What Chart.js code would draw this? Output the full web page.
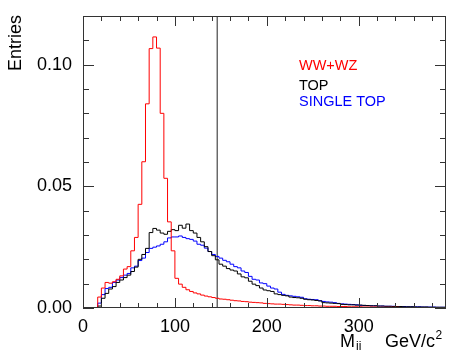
<!DOCTYPE html>
<html>
<head>
<meta charset="utf-8">
<script src="https://cdn.jsdelivr.net/npm/chart.js@4/dist/chart.umd.min.js"></script>
<style>
  html, body { margin: 0; padding: 0; background: #fff; }
</style>
</head>
<body>
<canvas id="chart" width="449" height="350"></canvas>
<script>
// histogram bins: 4 GeV wide, starting at 0
const binWidth = 4;

const wwwz = [
    0, 0, 0, 0, 0.0045, 0.0082, 0.0105, 0.0102, 0.0108, 0.0118,
    0.0132, 0.0160, 0.0170, 0.0235, 0.0290, 0.0426, 0.0601, 0.0839, 0.1066, 0.1114,
    0.1068, 0.0800, 0.0533, 0.0354, 0.0235, 0.0122, 0.0098, 0.0085, 0.0075, 0.0068,
    0.0062, 0.0058, 0.0053, 0.0049, 0.0046, 0.0043, 0.0040, 0.0037, 0.0036, 0.0034,
    0.0032, 0.0030, 0.0029, 0.0027, 0.0026, 0.0024, 0.0023, 0.0022, 0.0021, 0.0019,
    0.0018, 0.0017, 0.0016, 0.0016, 0.0015, 0.0014, 0.0013, 0.0012, 0.0012, 0.0011,
    0.0010, 0.0010, 0.0009, 0.0009, 0.0008, 0.0008, 0.0007, 0.0007, 0.0007, 0.0006,
    0.0006, 0.0006, 0.0005, 0.0005, 0.0005, 0.0005, 0.0004, 0.0004, 0.0004, 0.0004,
    0.0003, 0.0003, 0.0003, 0.0003, 0.0003, 0.0003, 0.0002, 0.0002, 0.0002, 0.0002,
    0.0002, 0.0002, 0.0002, 0.0001, 0.0001, 0.0001, 0.0001, 0.0001, 0.0001
];

const top_ = [
    0, 0, 0, 0, 0.0008, 0.0040, 0.0060, 0.0078, 0.0088, 0.0105,
    0.0115, 0.0125, 0.0135, 0.0150, 0.0168, 0.0200, 0.0220, 0.0245, 0.0310, 0.0327,
    0.0320, 0.0308, 0.0303, 0.0315, 0.0322, 0.0318, 0.0340, 0.0328, 0.0345, 0.0318,
    0.0308, 0.0290, 0.0272, 0.0252, 0.0232, 0.0215, 0.0198, 0.0180, 0.0172, 0.0162,
    0.0156, 0.0152, 0.0140, 0.0128, 0.0124, 0.0110, 0.0098, 0.0092, 0.0082, 0.0074,
    0.0071, 0.0068, 0.0058, 0.0055, 0.0052, 0.0050, 0.0045, 0.0043, 0.0042, 0.0040,
    0.0036, 0.0034, 0.0033, 0.0031, 0.0029, 0.0022, 0.0021, 0.0020, 0.0019, 0.0018,
    0.0015, 0.0014, 0.0013, 0.0013, 0.0012, 0.0012, 0.0011, 0.0010, 0.0009, 0.0009,
    0.0008, 0.0008, 0.0007, 0.0007, 0.0006, 0.0006, 0.0006, 0.0005, 0.0005, 0.0005,
    0.0004, 0.0004, 0.0004, 0.0004, 0.0003, 0.0003, 0.0003, 0.0003, 0.0003
];

const singleTop = [
    0, 0, 0, 0, 0.0020, 0.0055, 0.0080, 0.0085, 0.0105, 0.0115,
    0.0125, 0.0135, 0.0142, 0.0165, 0.0172, 0.0195, 0.0205, 0.0228, 0.0245, 0.0250,
    0.0255, 0.0262, 0.0272, 0.0288, 0.0292, 0.0292, 0.0296, 0.0290, 0.0285, 0.0282,
    0.0275, 0.0262, 0.0258, 0.0246, 0.0232, 0.0220, 0.0212, 0.0205, 0.0196, 0.0190,
    0.0180, 0.0170, 0.0165, 0.0152, 0.0146, 0.0130, 0.0118, 0.0115, 0.0103, 0.0100,
    0.0090, 0.0082, 0.0078, 0.0065, 0.0056, 0.0052, 0.0050, 0.0048, 0.0046, 0.0044,
    0.0038, 0.0036, 0.0035, 0.0034, 0.0030, 0.0027, 0.0025, 0.0024, 0.0022, 0.0019,
    0.0017, 0.0016, 0.0015, 0.0014, 0.0013, 0.0011, 0.0010, 0.0010, 0.0009, 0.0009,
    0.0008, 0.0008, 0.0007, 0.0007, 0.0007, 0.0006, 0.0006, 0.0006, 0.0005, 0.0005,
    0.0005, 0.0005, 0.0004, 0.0004, 0.0004, 0.0004, 0.0003, 0.0003, 0.0003
];

const cutValue = 146;

const xLabelTicks = [0, 100, 200, 300];
const xMinorStep = 20;
const yLabelTicks = [0, 0.05, 0.10];
const yMinorStep = 0.01;

const legendItems = [
    { text: 'WW+WZ', color: '#ff0000' },
    { text: 'TOP', color: '#000000' },
    { text: 'SINGLE TOP', color: '#0000ff' }
];

const FONT = "'Liberation Sans', Arial, Helvetica, sans-serif";
Chart.defaults.font.family = FONT;

const toHist = vals => {
    const pts = vals.map((v, i) => ({ x: i * binWidth, y: v }));
    pts.push({ x: vals.length * binWidth, y: vals[vals.length - 1] });
    return pts;
};

const histDataset = (label, vals, color) => ({
    label,
    data: toHist(vals),
    borderColor: color,
    borderWidth: 1,
    pointRadius: 0,
    stepped: true,
    fill: false
});

// frame, inward ticks on all sides, legend text and axis titles
const rootStyle = {
    id: 'rootStyle',
    afterDraw(chart) {
        const { ctx, chartArea: a, scales: { x, y } } = chart;
        ctx.save();
        ctx.strokeStyle = '#333';
        ctx.lineWidth = 1;
        ctx.strokeRect(a.left + 0.5, a.top + 0.5, a.right - a.left - 1, a.bottom - a.top - 1);

        ctx.beginPath();
        for (let v = x.min; v <= x.max; v += xMinorStep) {
            const px = Math.round(x.getPixelForValue(v)) + 0.5;
            const len = xLabelTicks.includes(v) ? 10 : 5;
            ctx.moveTo(px, a.bottom); ctx.lineTo(px, a.bottom - len);
            ctx.moveTo(px, a.top); ctx.lineTo(px, a.top + len);
        }
        for (let i = 0; i * yMinorStep <= y.max + 1e-9; i++) {
            const v = i * yMinorStep;
            const py = Math.round(y.getPixelForValue(v)) + 0.5;
            const major = yLabelTicks.some(t => Math.abs(t - v) < 1e-9);
            const len = major ? 11 : 6;
            ctx.moveTo(a.left, py); ctx.lineTo(a.left + len, py);
            ctx.moveTo(a.right, py); ctx.lineTo(a.right - len, py);
        }
        ctx.stroke();

        // legend
        ctx.font = `14.5px ${FONT}`;
        ctx.textBaseline = 'middle';
        ctx.textAlign = 'left';
        const legendY = [66, 86, 102];
        legendItems.forEach((item, i) => {
            ctx.fillStyle = item.color;
            ctx.fillText(item.text, 299, legendY[i]);
        });

        // y title
        ctx.fillStyle = '#000';
        ctx.save();
        ctx.translate(16, 15);
        ctx.rotate(-Math.PI / 2);
        ctx.textAlign = 'right';
        ctx.font = `18px ${FONT}`;
        ctx.fillText('Entries', 0, 0);
        ctx.restore();

        // x title: M_jj GeV/c^2, right-aligned to the frame
        ctx.textBaseline = 'alphabetic';
        ctx.textAlign = 'left';
        const base = 347;
        ctx.font = `18px ${FONT}`;
        ctx.fillText('M', 340, base);
        ctx.font = `12px ${FONT}`;
        ctx.fillText('jj', 356, base + 3);
        ctx.font = `18px ${FONT}`;
        const gev = 'GeV/c';
        const gevW = ctx.measureText(gev).width;
        const gevX = 435 - gevW;
        ctx.fillText(gev, gevX, base);
        ctx.font = `12px ${FONT}`;
        ctx.fillText('2', gevX + gevW + 0.5, base - 8);
        ctx.restore();
    }
};

new Chart(document.getElementById('chart'), {
    type: 'line',
    data: {
        datasets: [
            histDataset('WW+WZ', wwwz, '#ff0000'),
            histDataset('TOP', top_, '#000000'),
            histDataset('SINGLE TOP', singleTop, '#0000ff'),
            {
                label: 'cut',
                data: [{ x: cutValue, y: 0 }, { x: cutValue, y: 0.12 }],
                borderColor: '#222',
                borderWidth: 1,
                pointRadius: 0
            }
        ]
    },
    options: {
        responsive: false,
        animation: false,
        layout: { padding: { top: 16, right: 3, left: 0, bottom: 0 } },
        plugins: { legend: { display: false }, tooltip: { enabled: false } },
        scales: {
            x: {
                type: 'linear',
                min: 0,
                max: 395,
                grid: { display: false },
                border: { display: false },
                afterBuildTicks: s => { s.ticks = xLabelTicks.map(v => ({ value: v })); },
                afterFit: s => { s.height = 42; },
                ticks: {
                    color: '#000',
                    font: { size: 18 },
                    padding: 0,
                    maxRotation: 0,
                    autoSkip: false,
                    callback: v => String(v)
                }
            },
            y: {
                type: 'linear',
                min: 0,
                max: 0.12,
                grid: { display: false },
                border: { display: false },
                afterBuildTicks: s => { s.ticks = yLabelTicks.map(v => ({ value: v })); },
                afterFit: s => { s.width = 83; },
                ticks: {
                    color: '#000',
                    font: { size: 18 },
                    padding: 3,
                    callback: v => v.toFixed(2)
                }
            }
        }
    },
    plugins: [rootStyle]
});
</script>
</body>
</html>
